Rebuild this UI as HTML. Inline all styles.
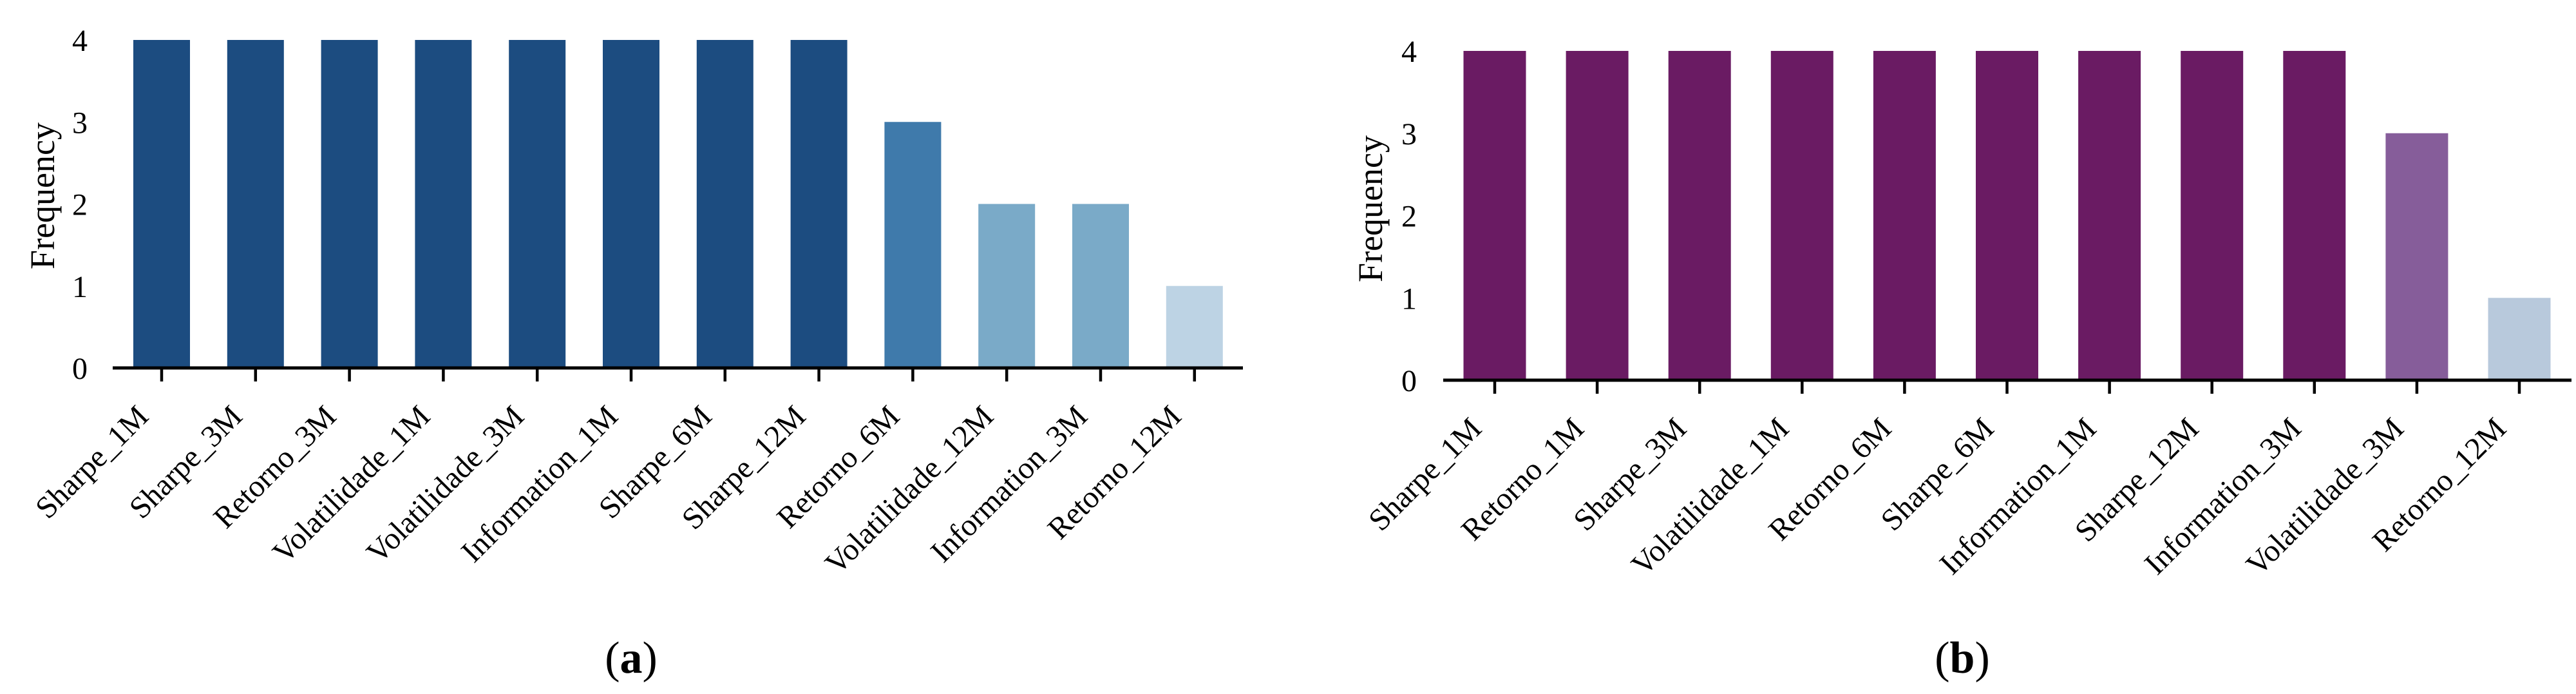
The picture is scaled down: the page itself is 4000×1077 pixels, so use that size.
<!DOCTYPE html>
<html><head><meta charset="utf-8">
<style>
html,body{margin:0;padding:0;background:#fff;}
svg{display:block;}
text{font-family:"Liberation Serif",serif;fill:#000;}
</style></head>
<body>
<svg id="fig" width="4000" height="1077" viewBox="0 0 4000 1077" xmlns="http://www.w3.org/2000/svg">
  <g id="chartA"></g>
  <g id="chartB"></g>
  <text x="980" y="1044" font-size="70" text-anchor="middle">(<tspan font-weight="bold">a</tspan>)</text>
  <text x="3047" y="1044" font-size="70" text-anchor="middle">(<tspan font-weight="bold">b</tspan>)</text>
</svg>
<script>
const catsA = ["Sharpe_1M","Sharpe_3M","Retorno_3M","Volatilidade_1M","Volatilidade_3M","Information_1M","Sharpe_6M","Sharpe_12M","Retorno_6M","Volatilidade_12M","Information_3M","Retorno_12M"];
const valsA = [4,4,4,4,4,4,4,4,3,2,2,1];
const catsB = ["Sharpe_1M","Retorno_1M","Sharpe_3M","Volatilidade_1M","Retorno_6M","Sharpe_6M","Information_1M","Sharpe_12M","Information_3M","Volatilidade_3M","Retorno_12M"];
const valsB = [4,4,4,4,4,4,4,4,4,3,1];
const yTicks = [0,1,2,3,4];
const NS = "http://www.w3.org/2000/svg";

function colorA(v){return v>=4?"#1c4c80":v>=3?"#3f7aab":v>=2?"#7aaac8":"#bdd3e4";}
function colorB(v){return v>=4?"#6a1b63":v>=3?"#865d9a":"#b8c9dc";}

function mk(tag, attrs, parent){
  const e=document.createElementNS(NS,tag);
  for(const k in attrs) e.setAttribute(k,attrs[k]);
  parent.appendChild(e); return e;
}

function draw(g, cats, vals, cfg){
  const xPos=i=>cfg.x0+i*cfg.step;
  const yPos=v=>cfg.base-(v/4)*(cfg.base-cfg.top);
  vals.forEach((v,i)=>{
    const r=mk("rect",{x:xPos(i)-cfg.bw/2,y:yPos(v),width:cfg.bw,height:cfg.base-yPos(v),fill:cfg.color(v)},g);
    
    
  });
  const ax=mk("line",{x1:cfg.axL,x2:cfg.axR,y1:cfg.base,y2:cfg.base,stroke:"#000","stroke-width":5},g);
  
  
  cats.forEach((c,i)=>{
    const t=mk("line",{x1:xPos(i),x2:xPos(i),y1:cfg.base,y2:cfg.base+21,stroke:"#000","stroke-width":4.5},g);
    
    
    const lx=xPos(i)-18, ly=cfg.base+78;
    const tx=mk("text",{x:lx,y:ly,"font-size":48,"text-anchor":"end",transform:`rotate(-45 ${lx} ${ly})`},g);
    tx.textContent=c;
    
    
  });
  yTicks.forEach(v=>{
    const t=mk("text",{x:cfg.labX,y:yPos(v)+17,"font-size":48,"text-anchor":"end"},g);
    t.textContent=String(v);
    
    
  });
  const yl=mk("text",{x:cfg.titleX,y:cfg.titleY,"font-size":54,"text-anchor":"middle",transform:`rotate(-90 ${cfg.titleX} ${cfg.titleY})`},g);
  yl.textContent="Frequency";
  
  
}

draw(document.getElementById("chartA"), catsA, valsA,
  {x0:251, step:145.8, bw:88, top:62, base:571, axL:175, axR:1930, labX:136, titleX:84, titleY:304, color:colorA});
draw(document.getElementById("chartB"), catsB, valsB,
  {x0:2321, step:159.1, bw:97, top:79, base:590, axL:2241, axR:3993, labX:2200, titleX:2146, titleY:324, color:colorB});
</script>
</body></html>
